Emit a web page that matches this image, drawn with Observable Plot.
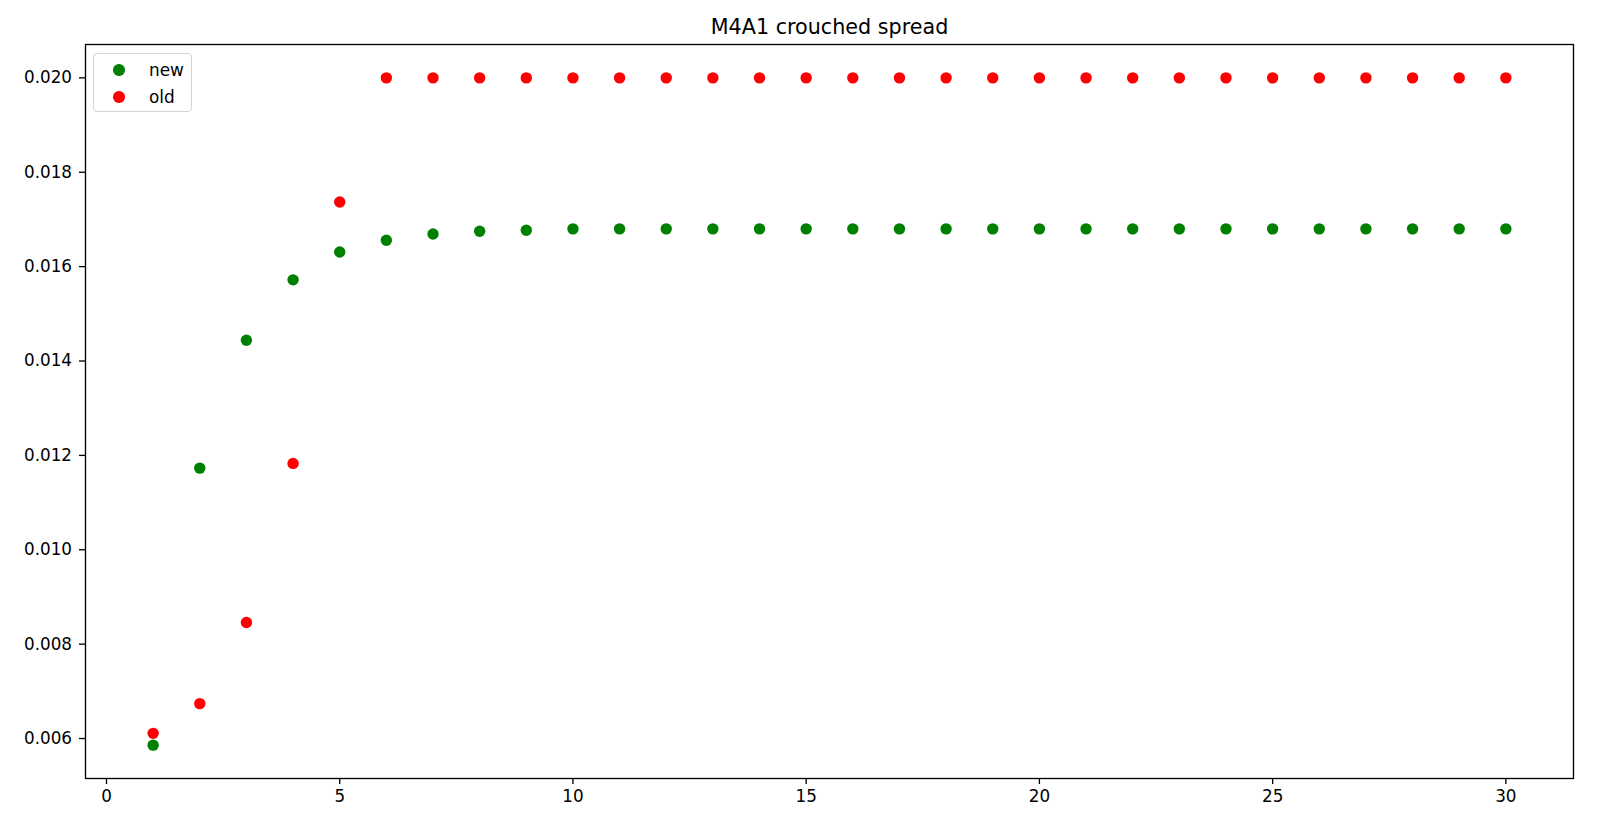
<!DOCTYPE html>
<html>
<head>
<meta charset="utf-8">
<script src="https://cdn.jsdelivr.net/npm/d3@7"></script>
<script src="https://cdn.jsdelivr.net/npm/@observablehq/plot@0.6"></script>
<style>
  html, body { margin: 0; padding: 0; background: #fff; }
  #wrap { position: relative; width: 1597px; height: 815px; font-family: "DejaVu Sans", sans-serif; }
  #legend {
    position: absolute; left: 93px; top: 53px; width: 99px; height: 59px;
    border: 1.3px solid #d3d3d3; border-radius: 4px; background: rgba(255,255,255,0.8);
    box-sizing: border-box; font-size: 16.9px; color: #000;
  }
  .item { position: absolute; left: 0; height: 20px; display: flex; align-items: center; }
  .sw { position: absolute; left: 19px; width: 11.5px; height: 11.5px; border-radius: 50%; }
  .lab { position: absolute; left: 55px; white-space: nowrap; line-height: 20px; }
</style>
</head>
<body>
<div id="wrap"></div>
<script>
const title = "M4A1 crouched spread";
const seriesNames = ["new", "old"];
const seriesColors = ["#008000", "#ff0000"];
const shots = [1,2,3,4,5,6,7,8,9,10,11,12,13,14,15,16,17,18,19,20,21,22,23,24,25,26,27,28,29,30];
const newSpread = [0.00586, 0.01173, 0.01444, 0.01572, 0.01631, 0.01656, 0.01669, 0.01675, 0.01677, 0.01680,
  0.01680, 0.01680, 0.01680, 0.01680, 0.01680, 0.01680, 0.01680, 0.01680, 0.01680, 0.01680,
  0.01680, 0.01680, 0.01680, 0.01680, 0.01680, 0.01680, 0.01680, 0.01680, 0.01680, 0.01680];
const oldSpread = [0.00611, 0.00674, 0.00846, 0.01183, 0.01737, 0.020, 0.020, 0.020, 0.020, 0.020,
  0.020, 0.020, 0.020, 0.020, 0.020, 0.020, 0.020, 0.020, 0.020, 0.020,
  0.020, 0.020, 0.020, 0.020, 0.020, 0.020, 0.020, 0.020, 0.020, 0.020];
const xTicks = [0, 5, 10, 15, 20, 25, 30];
const yTicks = [0.006, 0.008, 0.010, 0.012, 0.014, 0.016, 0.018, 0.020];

const newData = shots.map((s, i) => ({x: s, y: newSpread[i]}));
const oldData = shots.map((s, i) => ({x: s, y: oldSpread[i]}));

const chart = Plot.plot({
  width: 1597,
  height: 815,
  marginTop: 44,
  marginBottom: 37,
  marginLeft: 85,
  marginRight: 24,
  style: {fontFamily: "DejaVu Sans, sans-serif", fontSize: "16.7px", color: "#000", background: "#fff"},
  x: {domain: [-0.45, 31.45], ticks: xTicks, tickFormat: d => String(d)},
  y: {domain: [0.005153, 0.020707], ticks: yTicks, tickFormat: d3.format(".3f")},
  marks: [
    Plot.axisX({ticks: xTicks, tickSize: 6, tickPadding: 6, label: null, stroke: "#000", strokeWidth: 1.33, fontSize: 16.8, tickFormat: d => String(d)}),
    Plot.axisY({ticks: yTicks, tickSize: 6, tickPadding: 7.5, label: null, stroke: "#000", strokeWidth: 1.33, fontSize: 16.8, tickFormat: d3.format(".3f")}),
    Plot.dot(newData, {x: "x", y: "y", r: 5.7, fill: seriesColors[0], stroke: null}),
    Plot.dot(oldData, {x: "x", y: "y", r: 5.7, fill: seriesColors[1], stroke: null}),
    Plot.frame({stroke: "#000", strokeWidth: 1.33}),
    Plot.text([title], {frameAnchor: "top", dy: -17, lineAnchor: "middle", fontSize: 20.7, fill: "#000"})
  ]
});

const wrap = document.getElementById("wrap");
wrap.appendChild(chart);

const legend = document.createElement("div");
legend.id = "legend";
seriesNames.forEach((name, i) => {
  const item = document.createElement("div");
  item.className = "item";
  item.style.top = (6 + i * 27) + "px";
  item.style.width = "100%";
  const sw = document.createElement("span");
  sw.className = "sw";
  sw.style.background = seriesColors[i];
  const lab = document.createElement("span");
  lab.className = "lab";
  lab.textContent = name;
  item.appendChild(sw);
  item.appendChild(lab);
  legend.appendChild(item);
});
wrap.appendChild(legend);
</script>
</body>
</html>
